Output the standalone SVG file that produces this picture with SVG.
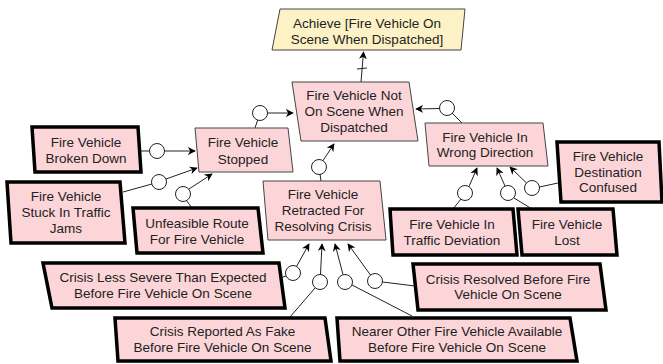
<svg xmlns="http://www.w3.org/2000/svg" width="663" height="364" viewBox="0 0 663 364">
<defs>
<marker id="ah" viewBox="0 0 10 10" refX="9" refY="5" markerWidth="8" markerHeight="8" markerUnits="userSpaceOnUse" orient="auto">
<path d="M0,0 L10,5 L0,10 L3,5 z" fill="#000"/>
</marker>
<style>
.goal{fill:#fdf2c6;stroke:#444;stroke-width:1}
.obs{fill:#fcd5d9;stroke:#444;stroke-width:1}
.leaf{fill:#fcd5d9;stroke:#000;stroke-width:3.5}
text{font-family:"Liberation Sans",Arial,sans-serif;font-size:13.5px;fill:#222;text-anchor:middle}
.ln{stroke:#222;stroke-width:1;fill:none}
.ar{stroke:#222;stroke-width:1;fill:none;marker-end:url(#ah)}
.rc{fill:#fff;stroke:#222;stroke-width:1}
</style>
</defs>
<rect width="663" height="364" fill="#fff"/>

<g id="connectors">
<!-- goal link -->
<line class="ar" x1="361" y1="82" x2="363.5" y2="52"/>
<line class="ln" x1="357" y1="69" x2="367" y2="68"/>
<!-- Stopped -> NotOnScene -->
<line class="ln" x1="255" y1="128" x2="260" y2="113"/>
<circle class="rc" cx="260" cy="113" r="7.5"/>
<line class="ar" x1="267.5" y1="113" x2="293" y2="113"/>
<!-- Retracted -> NotOnScene -->
<line class="ln" x1="321" y1="181" x2="319" y2="167"/>
<circle class="rc" cx="319" cy="167" r="7.5"/>
<line class="ar" x1="323" y1="160.5" x2="334" y2="144"/>
<!-- WrongDir -> NotOnScene -->
<line class="ln" x1="462" y1="123" x2="447" y2="108"/>
<circle class="rc" cx="447" cy="108" r="7.5"/>
<line class="ar" x1="439.5" y1="108.5" x2="416" y2="109"/>
<!-- BrokenDown -> Stopped -->
<line class="ln" x1="140" y1="151" x2="149.5" y2="151"/>
<circle class="rc" cx="157" cy="151" r="7.5"/>
<line class="ar" x1="164.5" y1="151" x2="195" y2="151"/>
<!-- Stuck -> Stopped -->
<line class="ln" x1="123" y1="192" x2="152" y2="184"/>
<circle class="rc" cx="159" cy="182" r="7.5"/>
<line class="ar" x1="166" y1="179" x2="197" y2="168"/>
<!-- Unfeasible -> Stopped -->
<line class="ln" x1="192" y1="208" x2="186" y2="200"/>
<circle class="rc" cx="183" cy="194" r="7.5"/>
<line class="ar" x1="189" y1="189" x2="212" y2="174"/>
<!-- TrafficDeviation -> WrongDir -->
<line class="ln" x1="453" y1="209" x2="461" y2="199"/>
<circle class="rc" cx="465" cy="193" r="7.5"/>
<line class="ar" x1="469" y1="186.5" x2="477" y2="168"/>
<!-- Lost -> WrongDir -->
<line class="ln" x1="532" y1="209" x2="514" y2="198"/>
<circle class="rc" cx="508" cy="193" r="7.5"/>
<line class="ar" x1="505" y1="186" x2="497" y2="168"/>
<!-- Destination -> WrongDir -->
<line class="ln" x1="558" y1="183" x2="539.5" y2="187"/>
<circle class="rc" cx="532" cy="188" r="7.5"/>
<line class="ar" x1="526.5" y1="183" x2="510" y2="167"/>
<!-- Crisis Less Severe -> Retracted -->
<line class="ln" x1="280" y1="278" x2="286" y2="276"/>
<circle class="rc" cx="293" cy="273" r="7.5"/>
<line class="ar" x1="296.5" y1="266.5" x2="309" y2="244"/>
<!-- Crisis Reported Fake -> Retracted -->
<line class="ln" x1="290" y1="317" x2="315" y2="288"/>
<circle class="rc" cx="320" cy="282" r="7.5"/>
<line class="ar" x1="320.5" y1="274.5" x2="322" y2="244"/>
<!-- Nearer -> Retracted -->
<line class="ln" x1="412" y1="316" x2="352" y2="285"/>
<circle class="rc" cx="345" cy="282" r="7.5"/>
<line class="ar" x1="343" y1="274.5" x2="335" y2="244"/>
<!-- Crisis Resolved -> Retracted -->
<line class="ln" x1="415" y1="286" x2="382.5" y2="282"/>
<circle class="rc" cx="375" cy="281" r="7.5"/>
<line class="ar" x1="370.5" y1="275" x2="348" y2="244"/>
</g>

<g id="goal">
<polygon class="goal" points="280,9 465,9 461,50 272,50"/>
<text x="367" y="27.5">Achieve [Fire Vehicle On</text>
<text x="367" y="43.5">Scene When Dispatched]</text>
</g>

<g id="not-on-scene">
<polygon class="obs" points="292,82 409,82 418,141 301,141"/>
<text x="354" y="100">Fire Vehicle Not</text>
<text x="354" y="116">On Scene When</text>
<text x="354" y="132">Dispatched</text>
</g>

<g id="stopped">
<polygon class="obs" points="195,128 288,128 293,172 199,172"/>
<text x="243" y="147">Fire Vehicle</text>
<text x="243" y="164">Stopped</text>
</g>

<g id="broken-down">
<polygon class="leaf" points="32,127 138,127 141,172 35,172"/>
<text x="86" y="147">Fire Vehicle</text>
<text x="86" y="163">Broken Down</text>
</g>

<g id="stuck">
<polygon class="leaf" points="7,182 120,182 125,243 11,243"/>
<text x="66" y="201">Fire Vehicle</text>
<text x="66" y="217">Stuck In Traffic</text>
<text x="66" y="233">Jams</text>
</g>

<g id="unfeasible">
<polygon class="leaf" points="133,208 258,208 263,253 137,253"/>
<text x="197" y="228">Unfeasible Route</text>
<text x="197" y="244">For Fire Vehicle</text>
</g>

<g id="retracted">
<polygon class="obs" points="263,181 380,181 386,240 268,240"/>
<text x="323" y="199">Fire Vehicle</text>
<text x="323" y="215">Retracted For</text>
<text x="323" y="231">Resolving Crisis</text>
</g>

<g id="wrong-direction">
<polygon class="obs" points="425,123 543,123 548,166 429,166"/>
<text x="485" y="142">Fire Vehicle In</text>
<text x="485" y="157">Wrong Direction</text>
</g>

<g id="destination-confused">
<polygon class="leaf" points="557,142 659,142 662,202 561,202"/>
<text x="608" y="161">Fire Vehicle</text>
<text x="608" y="177">Destination</text>
<text x="608" y="192">Confused</text>
</g>

<g id="traffic-deviation">
<polygon class="leaf" points="390,209 513,209 517,255 393,255"/>
<text x="452" y="229">Fire Vehicle In</text>
<text x="452" y="245">Traffic Deviation</text>
</g>

<g id="lost">
<polygon class="leaf" points="518,209 613,209 617,255 522,255"/>
<text x="567" y="229">Fire Vehicle</text>
<text x="567" y="245">Lost</text>
</g>

<g id="crisis-less-severe">
<polygon class="leaf" points="43,263 279,263 285,308 52,308"/>
<text x="163" y="282">Crisis Less Severe Than Expected</text>
<text x="163" y="298">Before Fire Vehicle On Scene</text>
</g>

<g id="crisis-fake">
<polygon class="leaf" points="115,318 325,318 331,361 118,361"/>
<text x="222.5" y="336">Crisis Reported As Fake</text>
<text x="222.5" y="352">Before Fire Vehicle On Scene</text>
</g>

<g id="crisis-resolved">
<polygon class="leaf" points="413,264 600,264 606,310 418,310"/>
<text x="508" y="284">Crisis Resolved Before Fire</text>
<text x="508" y="299">Vehicle On Scene</text>
</g>

<g id="nearer-vehicle">
<polygon class="leaf" points="337,318 570,318 577,361 340,361"/>
<text x="457" y="336">Nearer Other Fire Vehicle Available</text>
<text x="457" y="352">Before Fire Vehicle On Scene</text>
</g>
</svg>
